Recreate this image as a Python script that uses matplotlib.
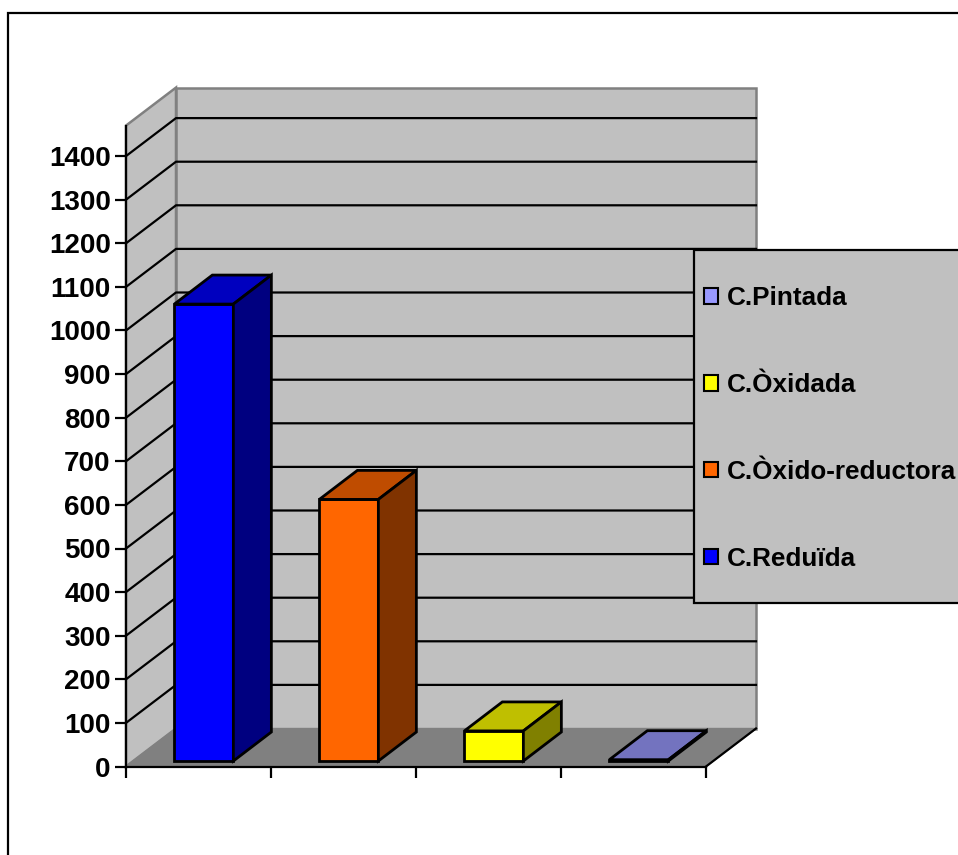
import matplotlib
matplotlib.use('Agg')
import matplotlib.pyplot as plt
from matplotlib.patches import Patch, Rectangle

plt.rcParams['font.family'] = ['Liberation Sans', 'DejaVu Sans']
plt.rcParams['font.weight'] = 'bold'

# data
categories = [0, 1, 2, 3]
values = [1048, 600, 69, 3]
y_ticks = list(range(0, 1500, 100))
legend_labels = ['C.Pintada', 'C.Òxidada', 'C.Òxido-reductora', 'C.Reduïda']
legend_colors = ['#9999FF', '#FFFF00', '#FF6600', '#0000FF']
front_colors = ['#0000FF', '#FF6600', '#FFFF00', '#7373BF']
top_colors = ['#0000BF', '#BF4C00', '#BFBF00', '#7373BF']
side_colors = ['#000080', '#803300', '#808000', '#4C4C80']
axis_top = 1470

W, H = 958, 855
x0, y0 = 126, 766.5      # pixel position of the chart origin
px_cat = 145.0
px_val = 0.436

wall_dx, wall_dy = 50 / px_cat, 38 / px_val
bar_dx, bar_dy = 38 / px_cat, 29 / px_val
bar_w = 59 / px_cat
bar_off = 0.537
base = 5.5 / px_val


def fig_xy(x, y):
    return x / W, 1 - y / H


fig = plt.figure(figsize=(W / 100, H / 100), dpi=100)
ax = fig.add_axes([0, 0, 1, 1])
ax.set_xlim(-x0 / px_cat, (W - x0) / px_cat)
ax.set_ylim((y0 - H) / px_val, y0 / px_val)
ax.patch.set_visible(False)

# outer frame of the chart area
ax.add_patch(Rectangle(fig_xy(8, 900), 1000 / W, 887 / H, transform=fig.transFigure,
                       fc='white', ec='black', lw=1.6, zorder=0.1))

# walls and floor
n = len(categories)
ax.fill([0, 0, wall_dx, wall_dx], [0, axis_top, axis_top + wall_dy, wall_dy],
        fc='#C0C0C0', ec='#808080', lw=1.8, zorder=0.5)
ax.fill([wall_dx, wall_dx, n + wall_dx, n + wall_dx],
        [wall_dy, axis_top + wall_dy, axis_top + wall_dy, wall_dy],
        fc='#C0C0C0', ec='#808080', lw=1.8, zorder=0.5)
ax.fill([0, n, n + wall_dx, wall_dx], [0, 0, wall_dy, wall_dy],
        fc='#808080', ec='#808080', lw=1, zorder=0.6)
ax.plot([n, n + wall_dx], [0, wall_dy], c='black', lw=1.6, zorder=0.8)

# gridlines
for t in y_ticks[1:]:
    ax.plot([0, wall_dx, n + wall_dx], [t, t + wall_dy, t + wall_dy], c='black', lw=1.6, zorder=0.7)

# bars
for i, v in enumerate(values):
    left = categories[i] + bar_off - bar_w / 2
    right = left + bar_w
    ax.bar(left, v, width=bar_w, bottom=base, align='edge', color=front_colors[i],
           edgecolor='black', lw=2, zorder=1)
    ax.fill([left, right, right + bar_dx, left + bar_dx],
            [base + v, base + v, base + v + bar_dy, base + v + bar_dy],
            fc=top_colors[i], ec='black', lw=2, zorder=1)
    ax.fill([right, right + bar_dx, right + bar_dx, right],
            [base, base + bar_dy, base + v + bar_dy, base + v],
            fc=side_colors[i], ec='black', lw=2, zorder=1)

# axes
for s in ['top', 'right']:
    ax.spines[s].set_visible(False)
ax.spines['left'].set_position(('data', 0))
ax.spines['left'].set_bounds(0, axis_top)
ax.spines['bottom'].set_position(('data', 0))
ax.spines['bottom'].set_bounds(0, n)
ax.spines['left'].set_linewidth(1.6)
ax.spines['bottom'].set_linewidth(1.6)
ax.set_yticks(y_ticks)
ax.set_xticks(range(n + 1))
ax.set_xticklabels([])
ax.tick_params(axis='y', length=8, width=1.6, pad=3, labelsize=20)
ax.tick_params(axis='x', length=8, width=1.6)

# legend
ax.add_patch(Rectangle(fig_xy(694, 603), 300 / W, 353 / H, transform=fig.transFigure,
                       fc='#C0C0C0', ec='black', lw=1.6, zorder=4.5, clip_on=False))
handles = [Patch(fc=c, ec='black', lw=1.5) for c in legend_colors]
leg = ax.legend(handles, legend_labels, loc='upper left', bbox_to_anchor=fig_xy(704, 286),
                bbox_transform=fig.transFigure, frameon=False, fontsize=18.8,
                borderpad=0, borderaxespad=0, labelspacing=2.41,
                handlelength=0.55, handleheight=0.55, handletextpad=0.34)
leg.set_zorder(5)

fig.savefig('out.png', dpi=100)
